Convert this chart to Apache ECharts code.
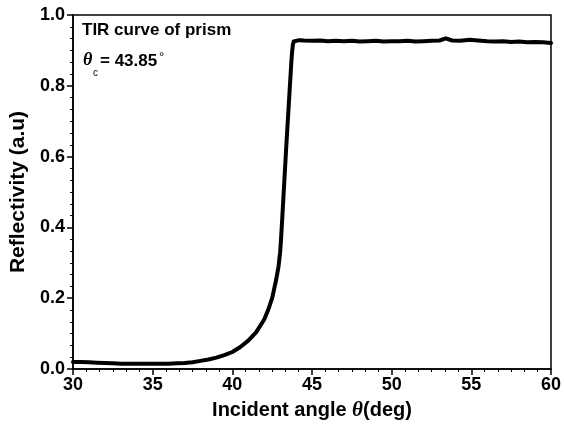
<!DOCTYPE html>
<html>
<head>
<meta charset="utf-8">
<script src="https://cdn.jsdelivr.net/npm/echarts@6/dist/echarts.min.js"></script>
<style>html,body{margin:0;padding:0;background:#fff;}#c{width:564px;height:432px;}</style>
</head>
<body>
<div id="c"></div>
<script>
// Data
const angles = [30,30.5,31,31.5,32,32.5,33,33.5,34,34.5,35,35.5,36,36.5,37,37.5,38,38.5,39,39.5,40,40.5,41,41.5,42,42.25,42.5,42.75,42.9,43,43.05,43.1,43.2,43.3,43.4,43.5,43.6,43.7,43.75,43.8,43.85,43.95,44.2,44.5,45,45.5,46,46.5,47,47.5,48,48.5,49,49.5,50,50.5,51,51.5,52,52.5,53,53.4,53.8,54.3,54.9,55.4,56,56.5,57,57.5,58,58.5,59,59.5,60];
const reflectivity = [0.020,0.020,0.019,0.018,0.017,0.016,0.015,0.015,0.015,0.015,0.015,0.015,0.015,0.016,0.017,0.019,0.023,0.027,0.032,0.039,0.048,0.062,0.080,0.104,0.140,0.167,0.200,0.252,0.290,0.330,0.362,0.400,0.480,0.560,0.640,0.715,0.790,0.865,0.895,0.916,0.925,0.930,0.929,0.928,0.927,0.928,0.926,0.927,0.926,0.927,0.925,0.926,0.927,0.925,0.926,0.926,0.927,0.925,0.926,0.927,0.928,0.934,0.928,0.927,0.930,0.928,0.926,0.925,0.926,0.924,0.925,0.923,0.924,0.923,0.921];
const xTicks = [30,35,40,45,50,55,60];
const yTicks = [0.0,0.2,0.4,0.6,0.8,1.0];
const xTitle = '{n|Incident angle }{th|θ}{n|(deg)}';
const yTitle = 'Reflectivity (a.u)';
const annotation1 = 'TIR curve of prism';
const annotationValue = '= 43.85';

const chart = echarts.init(document.getElementById('c'), null, {renderer:'canvas'});
const F = 'Arial, "Liberation Sans", sans-serif';
chart.setOption({
  animation:false,
  backgroundColor:'#fff',
  grid:{left:73,right:11,top:15,bottom:63,show:true,borderColor:'#000',borderWidth:1.5},
  xAxis:{
    type:'value',min:xTicks[0],max:xTicks[xTicks.length-1],interval:xTicks[1]-xTicks[0],
    axisLine:{show:true,onZero:false,lineStyle:{color:'#000',width:1.5}},
    axisTick:{show:true,inside:false,length:6,lineStyle:{color:'#000',width:1.5}},
    minorTick:{show:true,splitNumber:6,length:3,lineStyle:{color:'#000',width:1}},
    splitLine:{show:false},
    axisLabel:{color:'#000',fontFamily:F,fontWeight:'bold',fontSize:18,margin:7},
    name:xTitle,nameLocation:'middle',nameGap:31,
    nameTextStyle:{color:'#000',fontFamily:F,fontWeight:'bold',fontSize:20,
      rich:{th:{fontFamily:'"Liberation Serif", serif',fontStyle:'italic',fontWeight:'bold',fontSize:21,color:'#000'},
            n:{fontFamily:F,fontWeight:'bold',fontSize:20,color:'#000'}}}
  },
  yAxis:{
    type:'value',min:yTicks[0],max:yTicks[yTicks.length-1],interval:0.2,
    axisLine:{show:true,onZero:false,lineStyle:{color:'#000',width:1.5}},
    axisTick:{show:true,inside:false,length:6,lineStyle:{color:'#000',width:1.5}},
    minorTick:{show:true,splitNumber:6,length:3,lineStyle:{color:'#000',width:1}},
    splitLine:{show:false},
    axisLabel:{color:'#000',fontFamily:F,fontWeight:'bold',fontSize:18,margin:8,formatter:v=>v.toFixed(1)},
    name:yTitle,nameLocation:'middle',nameGap:41,
    nameTextStyle:{color:'#000',fontFamily:F,fontWeight:'bold',fontSize:21}
  },
  series:[{
    type:'line',data:angles.map((a,i)=>[a,reflectivity[i]]),
    showSymbol:false,smooth:false,
    lineStyle:{color:'#000',width:4,join:'round',cap:'round'},
    itemStyle:{color:'#000'}
  }],
  graphic:[
    {type:'text',left:82,top:22,style:{text:annotation1,font:'bold 17px '+F,fill:'#000'}},
    {type:'text',left:83,top:51,style:{text:'θ',font:'italic bold 18px "Liberation Serif", serif',fill:'#000'}},
    {type:'text',left:93,top:68,style:{text:'c',font:'10px '+F,fill:'#000'}},
    {type:'text',left:100,top:53,style:{text:annotationValue,font:'bold 17px '+F,fill:'#000'}},
    {type:'text',left:159,top:51,style:{text:'°',font:'13px '+F,fill:'#000'}}
  ]
});
</script>
</body>
</html>
